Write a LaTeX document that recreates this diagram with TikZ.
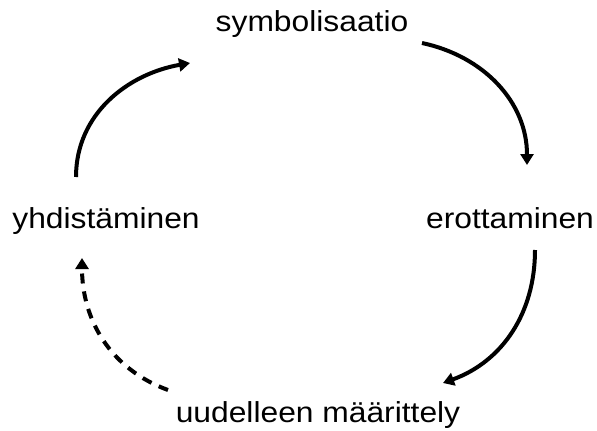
\documentclass[tikz,border=0pt]{standalone}
\usepackage{fontspec}
\setmainfont{Liberation Sans}[FakeStretch=1.1]
\usetikzlibrary{arrows.meta}
\begin{document}
\begin{tikzpicture}[x=1bp,y=1bp,
  lbl/.style={anchor=base,inner sep=0pt,font=\fontsize{29}{33}\selectfont},
  arc/.style={line width=4bp,-{Triangle[length=11bp,width=13bp]}},
  dasharc/.style={arc,dash pattern=on 10bp off 8bp}]
\useasboundingbox (0,0) rectangle (597,430);
\node[lbl] (sym) at (312,398) {symbolisaatio};
\node[lbl] (yhd) at (106,202) {yhdistäminen};
\node[lbl] (ero) at (510,202) {erottaminen};
\node[lbl] (uud) at (318,8) {uudelleen määrittely};
\coordinate (a1s) at (76,253);
\coordinate (a1e) at (190,367);
\coordinate (a2s) at (422,387);
\coordinate (a2e) at (527,265);
\coordinate (a3s) at (535,180);
\coordinate (a3e) at (443,47);
\coordinate (a4s) at (168,40);
\coordinate (a4e) at (82,172);
\draw[arc] (a1s) to[out=90,in=190] (a1e);
\draw[arc] (a2s) to[out=-12,in=90] (a2e);
\draw[arc] (a3s) to[out=-90,in=20] (a3e);
\draw[dasharc] (a4s) to[out=160,in=-90] (a4e);
\end{tikzpicture}
\end{document}
